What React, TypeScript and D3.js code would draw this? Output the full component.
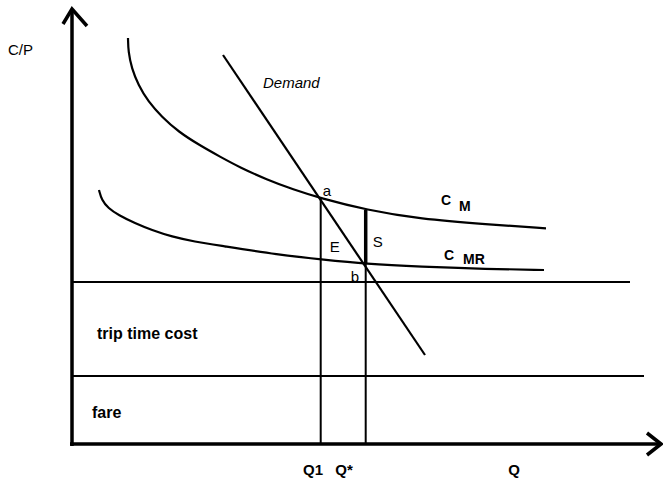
import React from "react";
import * as d3 from "d3";

// Values (units: Q along the horizontal axis, C/P along the vertical axis)
const cmQ = [56, 56.3, 59.7, 66.3, 76.3, 89.7, 106.3, 128, 148, 168, 194.7, 221.3, 248, 294.7, 348, 414.7, 474];
const cmC = [406, 392.3, 375.7, 359, 342.3, 327.3, 312.3, 298.5, 287.3, 276.5, 264.5, 254.5, 246, 234, 225, 219.7, 215.7];

const cmrQ = [27, 29.7, 36.3, 46.3, 63, 79.7, 99.7, 123, 146.3, 208, 248.7, 294, 348, 414.7, 472];
const cmrC = [254, 244, 235.7, 229, 220.7, 214, 207.3, 202.3, 198.7, 189, 184.7, 180, 177.3, 175, 174];

const demandQ = [151, 353];
const demandC = [389, 89];

const q1 = 248.7;
const qStar = 293.7;
const q1Top = 245; // point a
const qStarTop = 234; // on C_M
const bLevel = 180; // point b on C_MR

const tripTimeLevel = 162;
const tripTimeEnd = 558;
const fareLevel = 68;
const fareEnd = 572;

const xTickLabels = [
  { label: "Q1", q: 241 },
  { label: "Q*", q: 272 },
  { label: "Q", q: 442 },
];

const W = 663;
const H = 483;

export default function App() {
  const x = d3.scaleLinear().domain([0, 590]).range([72, 662]);
  const y = d3.scaleLinear().domain([0, 436]).range([444, 8]);

  const line = d3
    .line<[number, number]>()
    .x((d) => x(d[0]))
    .y((d) => y(d[1]))
    .curve(d3.curveBasis);
  const straight = d3
    .line<[number, number]>()
    .x((d) => x(d[0]))
    .y((d) => y(d[1]));

  const cm = cmQ.map((q, i) => [q, cmC[i]] as [number, number]);
  const cmr = cmrQ.map((q, i) => [q, cmrC[i]] as [number, number]);
  const demand = demandQ.map((q, i) => [q, demandC[i]] as [number, number]);

  const font = "'Liberation Sans', Arial, Helvetica, sans-serif";
  const ox = x(0);
  const oy = y(0);

  return (
    <svg
      width={W}
      height={H}
      style={{ position: "absolute", left: 0, top: 0, background: "#fff" }}
      fontFamily={font}
    >
      <rect width={W} height={H} fill="#fff" />
      {/* horizontal cost levels */}
      <line x1={ox} x2={x(tripTimeEnd)} y1={y(tripTimeLevel)} y2={y(tripTimeLevel)} stroke="#000" strokeWidth={2} />
      <line x1={ox} x2={x(fareEnd)} y1={y(fareLevel)} y2={y(fareLevel)} stroke="#000" strokeWidth={2} />

      {/* curves */}
      <path d={line(cm) || ""} fill="none" stroke="#000" strokeWidth={2.2} />
      <path d={line(cmr) || ""} fill="none" stroke="#000" strokeWidth={2.2} />
      <path d={straight(demand) || ""} fill="none" stroke="#000" strokeWidth={2.2} />

      {/* verticals */}
      <line x1={x(q1)} x2={x(q1)} y1={y(q1Top)} y2={oy} stroke="#000" strokeWidth={2} />
      <line x1={x(qStar)} x2={x(qStar)} y1={y(qStarTop)} y2={y(bLevel)} stroke="#000" strokeWidth={3.5} />
      <line x1={x(qStar)} x2={x(qStar)} y1={y(bLevel)} y2={oy} stroke="#000" strokeWidth={2} />

      {/* axes */}
      <line x1={ox} x2={ox} y1={9} y2={oy + 2} stroke="#000" strokeWidth={3.5} />
      <line x1={ox - 2} x2={661} y1={oy} y2={oy} stroke="#000" strokeWidth={3.5} />
      <path d={`M${ox - 9},${24} L${ox},${9} L${ox + 15},${26}`} fill="none" stroke="#000" strokeWidth={3.5} strokeLinejoin="miter" />
      <path d={`M647,${oy - 11} L661,${oy} L647,${oy + 11}`} fill="none" stroke="#000" strokeWidth={3.5} strokeLinejoin="miter" />

      {/* labels */}
      <text x={8} y={55} fontSize={15}>C/P</text>
      <text x={263} y={88} fontSize={15} fontStyle="italic">Demand</text>
      <text x={x(q1) + 2} y={y(q1Top) - 3} fontSize={15}>a</text>
      <text x={x(q1) + 9} y={252} fontSize={15}>E</text>
      <text x={x(qStar) + 7} y={247} fontSize={15}>S</text>
      <text x={x(qStar) - 15} y={282} fontSize={15}>b</text>

      <text x={441} y={205} fontSize={14} fontWeight="bold">C</text>
      <text x={459} y={211} fontSize={14} fontWeight="bold">M</text>
      <text x={444} y={260} fontSize={14} fontWeight="bold">C</text>
      <text x={463} y={264} fontSize={14} fontWeight="bold">MR</text>

      <text x={97} y={339} fontSize={16} fontWeight="bold">trip time cost</text>
      <text x={92} y={418} fontSize={16} fontWeight="bold">fare</text>

      {xTickLabels.map((t) => (
        <text key={t.label} x={x(t.q)} y={475} fontSize={15} fontWeight="bold" textAnchor="middle">
          {t.label}
        </text>
      ))}
    </svg>
  );
}
